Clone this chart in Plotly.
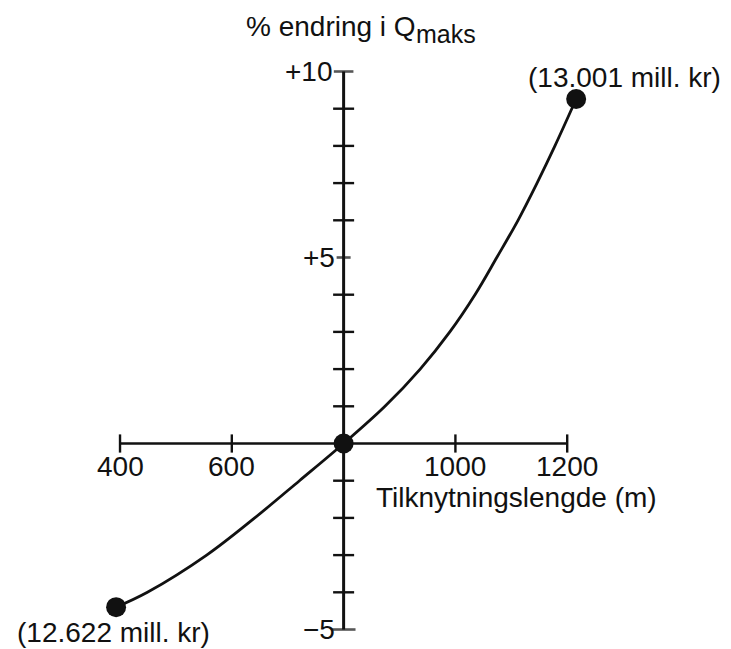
import plotly.graph_objects as go

# Curve: % change in Q_maks against connection length (m)
length_m = [393, 449, 555, 641, 721, 800, 874, 937, 990, 1035, 1074, 1112, 1146, 1178, 1216]
pct_change = [-4.40, -4.0, -3.0, -2.0, -1.0, 0.0, 1.0, 2.0, 3.0, 4.0, 5.0, 6.0, 7.0, 8.0, 9.26]

# Highlighted points: the two ends and the reference point
dot_x = [393, 800, 1216]
dot_y = [-4.40, 0.0, 9.26]

# Axis ticks
x_ticks = [400, 600, 1000, 1200]
x_tick_labels = ["400", "600", "1000", "1200"]
y_minor = [-4, -3, -2, -1, 1, 2, 3, 4, 6, 7, 8, 9]
y_major = [-5, 5, 10]
y_major_labels = ["\u22125", "+5", "+10"]

# Cost annotations at the curve ends
end_labels = ["(12.622 mill. kr)", "(13.001 mill. kr)"]

X0 = 800          # y-axis crosses here
X_MIN, X_MAX = 400, 1200
Y_MIN, Y_MAX = -5, 10

W, H = 731, 649
FONT = "Liberation Sans, Arial, sans-serif"
FS = 28
INK = "#111111"

fig = go.Figure()

# axis lines
fig.add_trace(go.Scatter(x=[X_MIN, X_MAX], y=[0, 0], mode="lines",
                         line=dict(color=INK, width=2.6), hoverinfo="skip"))
fig.add_trace(go.Scatter(x=[X0, X0], y=[Y_MIN, Y_MAX], mode="lines",
                         line=dict(color=INK, width=3), hoverinfo="skip"))

# cross ticks on the y-axis
fig.add_trace(go.Scatter(x=[X0] * len(y_minor), y=y_minor, mode="markers",
                         marker=dict(symbol="line-ew", size=15,
                                     line=dict(color=INK, width=2.4)),
                         hoverinfo="skip"))
fig.add_trace(go.Scatter(x=[X0] * len(y_major), y=y_major, mode="markers",
                         marker=dict(symbol="line-ew", size=[17, 10, 14],
                                     line=dict(color=INK, width=2.6)),
                         hoverinfo="skip"))

# cross ticks on the x-axis
fig.add_trace(go.Scatter(x=x_ticks, y=[0] * len(x_ticks), mode="markers",
                         marker=dict(symbol="line-ns", size=13,
                                     line=dict(color=INK, width=2.4)),
                         hoverinfo="skip"))

# the curve
fig.add_trace(go.Scatter(x=length_m, y=pct_change, mode="lines",
                         line=dict(color=INK, width=2.8, shape="spline", smoothing=1.0),
                         hoverinfo="skip"))

# dots
fig.add_trace(go.Scatter(x=dot_x, y=dot_y, mode="markers",
                         marker=dict(size=20, color=INK, line=dict(width=0)),
                         hoverinfo="skip"))

ann = []
font = dict(family=FONT, size=FS, color=INK)

for xv, lab in zip(x_ticks, x_tick_labels):
    ann.append(dict(x=xv, y=0, xref="x", yref="y", text=lab, showarrow=False,
                    xanchor="center", yanchor="middle", yshift=-23, font=font))

for yv, lab in zip(y_major, y_major_labels):
    ann.append(dict(x=X0, y=yv, xref="x", yref="y", text=lab, showarrow=False,
                    xanchor="right", yanchor="middle",
                    xshift=-9 if yv == 10 else -7, font=font))

# y-axis title with subscript
ann.append(dict(x=244 / W, y=1 - 26 / H, xref="paper", yref="paper",
                text="% endring i Q", showarrow=False, xanchor="left",
                yanchor="middle", font=font))
ann.append(dict(x=414 / W, y=1 - 34 / H, xref="paper", yref="paper",
                text="maks", showarrow=False, xanchor="left",
                yanchor="middle", font=dict(family=FONT, size=25, color=INK)))

# x-axis title
ann.append(dict(x=374 / W, y=1 - 497 / H, xref="paper", yref="paper",
                text="Tilknytningslengde (m)", showarrow=False, xanchor="left",
                yanchor="middle", font=font))

# cost labels at the curve ends
ann.append(dict(x=dot_x[0], y=dot_y[0], xref="x", yref="y", text=end_labels[0],
                showarrow=False, xanchor="center", yanchor="middle",
                xshift=-3, yshift=-25, font=font))
ann.append(dict(x=dot_x[-1], y=dot_y[-1], xref="x", yref="y", text=end_labels[1],
                showarrow=False, xanchor="center", yanchor="middle",
                xshift=48, yshift=22, font=font))

fig.update_layout(
    width=W, height=H,
    margin=dict(l=0, r=0, t=0, b=0),
    paper_bgcolor="white", plot_bgcolor="white",
    showlegend=False,
    xaxis=dict(range=[185.3, 1493.0], visible=False, fixedrange=True),
    yaxis=dict(range=[-5.524, 11.922], visible=False, fixedrange=True),
    annotations=ann,
)

fig.write_html("out.html")
